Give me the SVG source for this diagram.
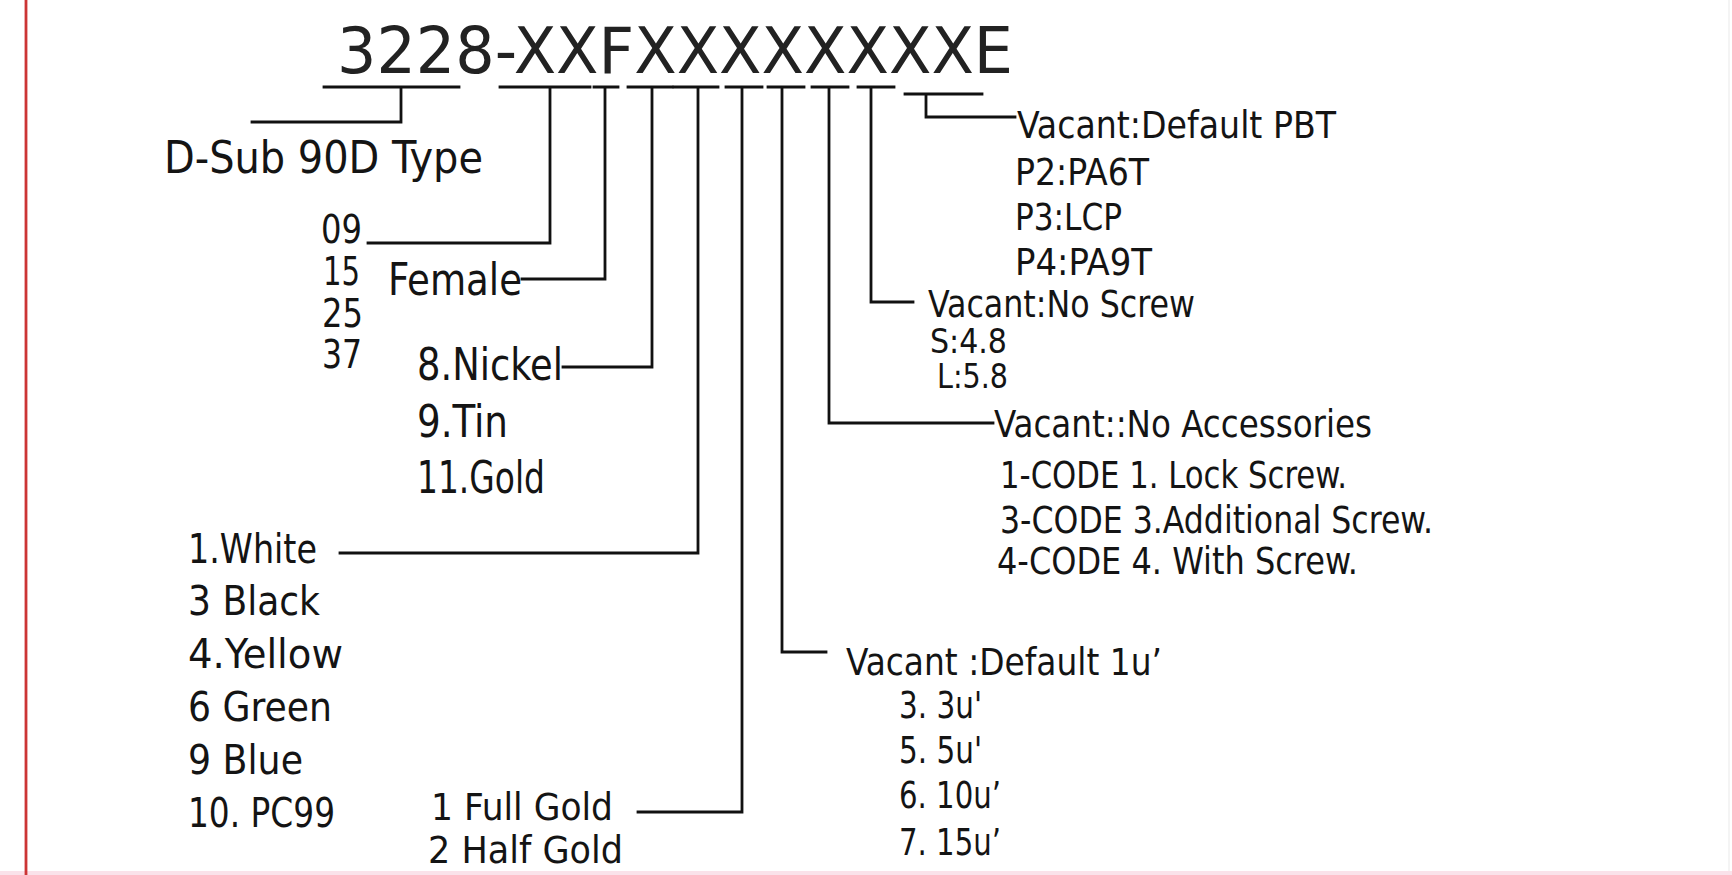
<svg xmlns="http://www.w3.org/2000/svg" width="1732" height="875" viewBox="0 0 1732 875">
<style>
text{font-family:"Liberation Sans Narrow","DejaVu Sans Condensed","Liberation Sans",sans-serif;fill:#141414;}
.ttl{font-size:64px;fill:#222;}
.l{font-size:44px;}
.p{font-size:39px;}
.m{font-size:41px;}
.s{font-size:37px;}
.x{font-size:33px;}
.c{fill:none;stroke:#111;stroke-width:2.8;stroke-linecap:square;}
</style>
<rect x="0" y="0" width="1732" height="875" fill="#fff"/>
<rect x="0" y="871" width="1732" height="4" fill="#fae2ea"/>
<line x1="26" y1="0" x2="26" y2="875" stroke="#cc3535" stroke-width="2.8"/>
<line x1="1729" y1="0" x2="1729" y2="871" stroke="#f0f0f0" stroke-width="1.5"/>

<g id="title">
<text class="ttl" x="337" y="73" textLength="676" lengthAdjust="spacingAndGlyphs">3228-XXFXXXXXXXXE</text>
</g>

<g id="connectors" class="c">
<path d="M324 87H459M401 87V122H252"/>
<path d="M500 87H590M550 87V243H368"/>
<path d="M594 87H618M605 87V279H522"/>
<path d="M628 87H672M652 87V367H563"/>
<path d="M674 87H718M698 87V553H340"/>
<path d="M726 87H762M742 87V812H638"/>
<path d="M768 87H804M782 87V652H826"/>
<path d="M812 87H848M829 87V423H993"/>
<path d="M858 87H894M871 87V302H913"/>
<path d="M905 94H982M926 94V117H1015"/>
</g>

<g id="node-type">
<text class="l" x="164" y="173" textLength="319" lengthAdjust="spacingAndGlyphs">D-Sub 90D Type</text>
</g>

<g id="node-pins">
<text class="p" x="321" y="243" textLength="41" lengthAdjust="spacingAndGlyphs">09</text>
<text class="p" x="323" y="285" textLength="37" lengthAdjust="spacingAndGlyphs">15</text>
<text class="p" x="322" y="327" textLength="41" lengthAdjust="spacingAndGlyphs">25</text>
<text class="p" x="322" y="368" textLength="40" lengthAdjust="spacingAndGlyphs">37</text>
</g>

<g id="node-gender">
<text class="l" x="388" y="295" textLength="134" lengthAdjust="spacingAndGlyphs">Female</text>
</g>

<g id="node-plating">
<text class="l" x="417" y="380" textLength="146" lengthAdjust="spacingAndGlyphs">8.Nickel</text>
<text class="l" x="417" y="437" textLength="91" lengthAdjust="spacingAndGlyphs">9.Tin</text>
<text class="l" x="417" y="493" textLength="128" lengthAdjust="spacingAndGlyphs">11.Gold</text>
</g>

<g id="node-color">
<text class="m" x="188" y="563" textLength="129" lengthAdjust="spacingAndGlyphs">1.White</text>
<text class="m" x="188" y="615" textLength="132" lengthAdjust="spacingAndGlyphs">3 Black</text>
<text class="m" x="188" y="668" textLength="155" lengthAdjust="spacingAndGlyphs">4.Yellow</text>
<text class="m" x="188" y="721" textLength="144" lengthAdjust="spacingAndGlyphs">6 Green</text>
<text class="m" x="188" y="774" textLength="115" lengthAdjust="spacingAndGlyphs">9 Blue</text>
<text class="m" x="188" y="827" textLength="147" lengthAdjust="spacingAndGlyphs">10. PC99</text>
</g>

<g id="node-gold">
<text class="s" x="431" y="820" textLength="182" lengthAdjust="spacingAndGlyphs">1 Full Gold</text>
<text class="s" x="428" y="863" textLength="195" lengthAdjust="spacingAndGlyphs">2 Half Gold</text>
</g>

<g id="node-thickness">
<text class="s" x="846" y="675" textLength="316" lengthAdjust="spacingAndGlyphs">Vacant :Default 1u’</text>
<text class="s" x="899" y="718" textLength="83" lengthAdjust="spacingAndGlyphs">3. 3u'</text>
<text class="s" x="899" y="763" textLength="83" lengthAdjust="spacingAndGlyphs">5. 5u'</text>
<text class="s" x="899" y="808" textLength="102" lengthAdjust="spacingAndGlyphs">6. 10u’</text>
<text class="s" x="899" y="855" textLength="102" lengthAdjust="spacingAndGlyphs">7. 15u’</text>
</g>

<g id="node-accessories">
<text class="s" x="994" y="437" textLength="378" lengthAdjust="spacingAndGlyphs">Vacant::No Accessories</text>
<text class="s" x="1000" y="488" textLength="347" lengthAdjust="spacingAndGlyphs">1-CODE 1. Lock Screw.</text>
<text class="s" x="1000" y="533" textLength="433" lengthAdjust="spacingAndGlyphs">3-CODE 3.Additional Screw.</text>
<text class="s" x="997" y="574" textLength="361" lengthAdjust="spacingAndGlyphs">4-CODE 4. With Screw.</text>
</g>

<g id="node-screw">
<text class="s" x="928" y="317" textLength="267" lengthAdjust="spacingAndGlyphs">Vacant:No Screw</text>
<text class="x" x="930" y="353" textLength="77" lengthAdjust="spacingAndGlyphs">S:4.8</text>
<text class="x" x="937" y="388" textLength="71" lengthAdjust="spacingAndGlyphs">L:5.8</text>
</g>

<g id="node-material">
<text class="s" x="1017" y="138" textLength="319" lengthAdjust="spacingAndGlyphs">Vacant:Default PBT</text>
<text class="s" x="1015" y="185" textLength="134" lengthAdjust="spacingAndGlyphs">P2:PA6T</text>
<text class="s" x="1015" y="230" textLength="107" lengthAdjust="spacingAndGlyphs">P3:LCP</text>
<text class="s" x="1015" y="275" textLength="137" lengthAdjust="spacingAndGlyphs">P4:PA9T</text>
</g>
</svg>
